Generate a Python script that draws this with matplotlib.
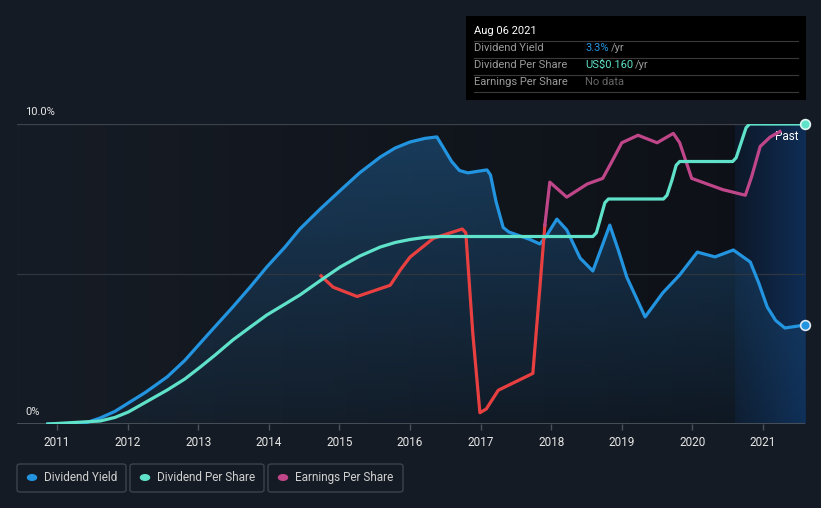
import numpy as np
import matplotlib.pyplot as plt
from matplotlib.colors import to_rgb
from matplotlib.patches import Rectangle, FancyBboxPatch
from matplotlib.lines import Line2D

plt.rcParams['font.family'] = ['Roboto', 'DejaVu Sans']

# dividend yield (%)
years_dy = [2010.87, 2011.40, 2011.61, 2011.82, 2012.01, 2012.25, 2012.56, 2012.81,
            2013.03, 2013.24, 2013.49, 2013.73, 2013.97, 2014.23, 2014.44, 2014.73,
            2015.01, 2015.29, 2015.58, 2015.79, 2016.00, 2016.21, 2016.38, 2016.45,
            2016.59, 2016.70, 2016.82, 2016.95, 2017.09, 2017.14, 2017.22, 2017.32,
            2017.40, 2017.52, 2017.70, 2017.84, 2017.94, 2018.08, 2018.22, 2018.41,
            2018.59, 2018.70, 2018.83, 2018.95, 2019.07, 2019.33, 2019.58, 2019.82,
            2020.07, 2020.32, 2020.58, 2020.82, 2020.94, 2021.06, 2021.18, 2021.31,
            2021.595]
yield_pct = [0.0, 0.03, 0.2, 0.42, 0.7, 1.05, 1.57, 2.12,
             2.7, 3.25, 3.9, 4.55, 5.23, 5.9, 6.5, 7.17,
             7.78, 8.38, 8.9, 9.2, 9.4, 9.52, 9.57, 9.3,
             8.75, 8.45, 8.37, 8.42, 8.47, 8.3, 7.4, 6.55,
             6.4, 6.3, 6.15, 6.0, 6.3, 6.83, 6.47, 5.53,
             5.1, 5.8, 6.63, 5.8, 4.9, 3.57, 4.37, 4.97,
             5.73, 5.57, 5.8, 5.4, 4.7, 3.9, 3.45, 3.2,
             3.3]

# dividend per share (US$)
years_dps = [2010.87, 2011.61, 2011.82, 2012.01, 2012.25, 2012.56, 2012.81, 2013.03,
             2013.24, 2013.49, 2013.73, 2013.97, 2014.23, 2014.44, 2014.73, 2015.01,
             2015.29, 2015.58, 2015.79, 2016.00, 2016.21, 2016.43, 2018.59, 2018.64,
             2018.70, 2018.76, 2018.81, 2019.59, 2019.64, 2019.71, 2019.77, 2019.82,
             2020.57, 2020.62, 2020.69, 2020.76, 2020.81, 2021.595]
dps = [0.0, 0.0016, 0.0035, 0.0064, 0.0115, 0.0181, 0.024, 0.0304,
       0.0368, 0.0448, 0.0515, 0.0581, 0.064, 0.0688, 0.0765, 0.0837,
       0.0896, 0.0944, 0.0968, 0.0984, 0.0995, 0.10, 0.10, 0.102,
       0.11, 0.118, 0.12, 0.12, 0.122, 0.13, 0.138, 0.14,
       0.14, 0.142, 0.15, 0.158, 0.16, 0.16]

# earnings per share (US$)
years_eps = [2014.74, 2014.91, 2015.25, 2015.72, 2015.86, 2016.00, 2016.33, 2016.74,
             2016.79, 2016.89, 2016.99, 2017.08, 2017.25, 2017.74, 2017.84, 2017.91,
             2017.98, 2018.22, 2018.51, 2018.73, 2018.86, 2019.00, 2019.23, 2019.50,
             2019.73, 2019.82, 2019.99, 2020.21, 2020.43, 2020.75, 2020.84, 2020.96,
             2021.10, 2021.24]
eps = [0.079, 0.073, 0.068, 0.074, 0.082, 0.089, 0.099, 0.104,
       0.102, 0.048, 0.006, 0.008, 0.018, 0.027, 0.073, 0.106,
       0.129, 0.121, 0.128, 0.131, 0.140, 0.150, 0.154, 0.150,
       0.155, 0.150, 0.131, 0.128, 0.125, 0.122, 0.132, 0.148,
       0.153, 0.156]
eps_red_until = 16  # first points drawn red

tick_years = list(range(2011, 2022))
past_start = 2020.6

BG = '#151b24'
BLUE = '#2394df'
TEAL = '#5fe2c9'
PINK = '#c0468a'
RED = '#e84040'

W, H = 821, 508
fig = plt.figure(figsize=(W / 100, H / 100), dpi=100, facecolor=BG)


def fx(px):
    return px / W


def fy(py):
    return 1 - py / H


ax = fig.add_axes([fx(17), fy(424), 788 / W, 300 / H])
x0, x1 = 2010.433, 2021.595

# background gradient
g = np.linspace(0, 1, 256).reshape(1, -1, 1)
c0, c1 = np.array(to_rgb('#161c25')), np.array(to_rgb('#0d1016'))
ax.imshow(c0 + (c1 - c0) * g, extent=[x0, x1, 0, 10], aspect='auto', zorder=0)

# past region
p0, p1 = np.array(to_rgb('#0d1828')), np.array(to_rgb('#0f2d55'))
ax.imshow(p0 + (p1 - p0) * g, extent=[past_start, x1, 0, 10], aspect='auto', zorder=0.5)

# fill under yield with vertical gradient
poly = ax.fill_between(years_dy, yield_pct, 0, color='none', lw=0)
a = np.linspace(0.7, 0.12, 256).reshape(-1, 1)
fc = np.zeros((256, 1, 4))
fc[..., :3] = to_rgb('#1c4d78')
fc[..., 3] = a
im = ax.imshow(fc, extent=[x0, x1, 0, 10], aspect='auto', zorder=1)
im.set_clip_path(poly.get_paths()[0], transform=ax.transData)

ax.set_xlim(x0, x1)
ax.set_ylim(0, 10)

# grid lines
ax.axhline(10, color='#3d424b', lw=0.9, zorder=2)
ax.axhline(5, color='#2f3640', lw=0.9, zorder=2)
ax.axhline(0, color='#4c525a', lw=1.3, zorder=2)

ax.plot(years_dy, yield_pct, color=BLUE, lw=2.3, zorder=5, solid_joinstyle='round')
ax.plot(years_dy[-1], yield_pct[-1], 'o', ms=7, mfc=BLUE, mec='#dfe9f3', mew=1.2,
        zorder=7, clip_on=False)

for s in ax.spines.values():
    s.set_visible(False)
ax.set_yticks([])
ax.set_xticks(tick_years)
ax.tick_params(axis='x', colors='#4c525a', length=4, width=1, pad=5,
               labelcolor='#e6e6e6', labelsize=8.5)

ax2 = ax.twinx()
ax2.set_ylim(0, 0.16)
ax2.set_xlim(x0, x1)
ax2.axis('off')
ax2.plot(years_eps[:eps_red_until], eps[:eps_red_until], color=RED, lw=2.3,
         zorder=4, solid_joinstyle='round')
ax2.plot(years_eps[eps_red_until - 1:], eps[eps_red_until - 1:], color=PINK, lw=2.3,
         zorder=4, solid_joinstyle='round')
ax2.plot(years_dps, dps, color=TEAL, lw=2.3, zorder=5, solid_joinstyle='round')
ax2.plot(years_dps[-1], dps[-1], 'o', ms=7, mfc=TEAL, mec='#dff7f2', mew=1.2,
         zorder=7, clip_on=False)

ax.text(2021.33, 9.6, 'Past', color='white', fontsize=8.5, ha='center', va='center', zorder=8)

# y labels
fig.text(fx(25), fy(112), '10.0%', color='#e6e6e6', fontsize=8, va='center')
fig.text(fx(25), fy(412), '0%', color='#e6e6e6', fontsize=8, va='center')

# tooltip
fig.patches.append(Rectangle((fx(466), fy(100)), 340 / W, 84 / H, transform=fig.transFigure,
                             facecolor='black', edgecolor='none'))
fig.text(fx(474), fy(31), 'Aug 06 2021', color='white', fontsize=8, va='center')
for ly in [40.5, 57.5, 74.5, 91.5]:
    fig.lines.append(Line2D([fx(474), fx(798)], [fy(ly), fy(ly)], transform=fig.transFigure,
                            color='#3a3a3a', lw=0.8))
rows = ['Dividend Yield', 'Dividend Per Share', 'Earnings Per Share']
for i, r in enumerate(rows):
    fig.text(fx(474), fy(48 + 17 * i), r, color='#9a9a9a', fontsize=8, va='center')
fig.text(fx(585), fy(48), f'{yield_pct[-1]:.1f}%', color=BLUE, fontsize=8, va='center')
fig.text(fx(611), fy(48), '/yr', color='#9a9a9a', fontsize=8, va='center')
fig.text(fx(585), fy(65), f'US${dps[-1]:.3f}', color=TEAL, fontsize=8, va='center')
fig.text(fx(635), fy(65), '/yr', color='#9a9a9a', fontsize=8, va='center')
fig.text(fx(585), fy(82), 'No data', color='#666666', fontsize=8, va='center')

# legend
legend_items = [('Dividend Yield', BLUE, 17, 126), ('Dividend Per Share', TEAL, 130, 264),
                ('Earnings Per Share', PINK, 268, 403)]
for label, col, bx0, bx1 in legend_items:
    fig.patches.append(FancyBboxPatch((fx(bx0), fy(492)), (bx1 - bx0) / W, 28 / H,
                                      boxstyle='round,pad=0,rounding_size=0.004',
                                      transform=fig.transFigure, facecolor='none',
                                      edgecolor='#3d424b', lw=1))
    fig.patches.append(plt.Circle((fx(bx0 + 15), fy(477.5)), 0.0055, transform=fig.transFigure,
                                  color=col))
    fig.text(fx(bx0 + 27), fy(477.5), label, color='#d0d0d0', fontsize=8.5, va='center')

fig.savefig('out.png', dpi=100, facecolor=BG)
